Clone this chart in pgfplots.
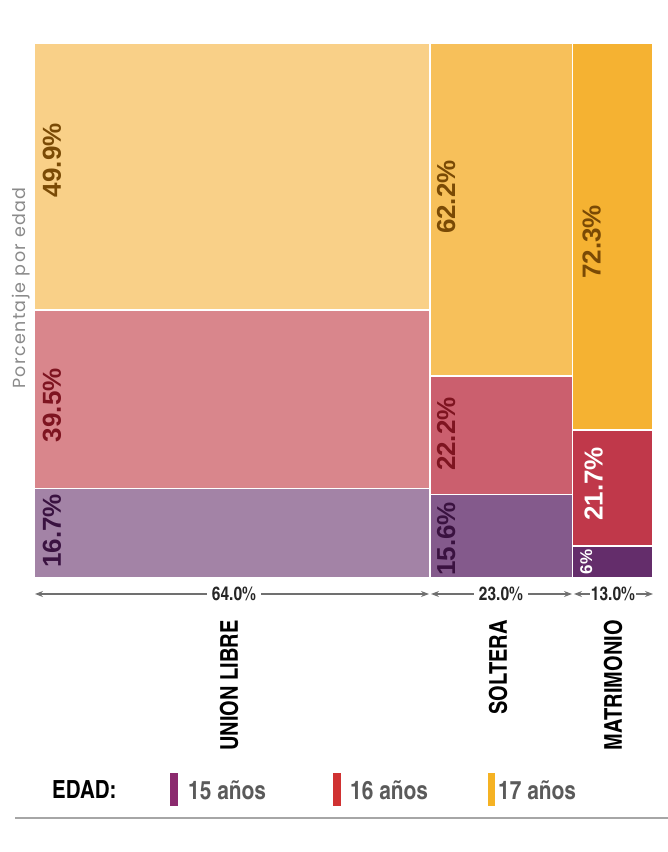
\documentclass[border=0pt]{standalone}
\usepackage{pgfplots}
\pgfplotsset{compat=1.18}
\usepackage{fontspec}
\setmainfont{Liberation Sans}
\newfontfamily\cond{texgyreheroscn}[Extension=.otf, UprightFont=*-regular, BoldFont=*-bold]
\newfontfamily\thin{Poppins}[LetterSpace=8]
\usetikzlibrary{arrows.meta}
\definecolor{ulA}{HTML}{A383A6}
\definecolor{ulB}{HTML}{D9868C}
\definecolor{ulC}{HTML}{F9D088}
\definecolor{soA}{HTML}{845A8C}
\definecolor{soB}{HTML}{CB5F6E}
\definecolor{soC}{HTML}{F7C05A}
\definecolor{maA}{HTML}{642D6B}
\definecolor{maB}{HTML}{C0384A}
\definecolor{maC}{HTML}{F5B232}
\definecolor{lgA}{HTML}{8B2A6E}
\definecolor{lgB}{HTML}{D03232}
\definecolor{lgC}{HTML}{F5B223}
\definecolor{txBrown}{HTML}{7A4A05}
\definecolor{txRed}{HTML}{7E1420}
\definecolor{txPurp}{HTML}{3A1240}
\definecolor{legGray}{HTML}{5A5A5A}
\definecolor{arrGray}{HTML}{707070}
\definecolor{titGray}{HTML}{8A8A8A}
\tikzset{lbl/.style={rotate=90, font=\fontsize{26}{26}\selectfont\bfseries, inner sep=0pt}}
\begin{document}
\begin{tikzpicture}[x=1pt,y=1pt]
\path[use as bounding box] (0,0) rectangle (668,852);
\begin{axis}[at={(34pt,274pt)}, anchor=south west, scale only axis,
  width=619pt, height=535pt, xmin=0, xmax=100, ymin=0, ymax=100,
  axis lines=none, clip=false]
% UNION LIBRE (64%)
\addplot[fill=ulA, draw=white, line width=1.5pt] coordinates {(0,0) (64,0) (64,16.7) (0,16.7)} -- cycle;
\addplot[fill=ulB, draw=white, line width=1.5pt] coordinates {(0,16.7) (64,16.7) (64,50.1) (0,50.1)} -- cycle;
\addplot[fill=ulC, draw=white, line width=1.5pt] coordinates {(0,50.1) (64,50.1) (64,100) (0,100)} -- cycle;
% SOLTERA (23%)
\addplot[fill=soA, draw=white, line width=1.5pt] coordinates {(64,0) (87,0) (87,15.6) (64,15.6)} -- cycle;
\addplot[fill=soB, draw=white, line width=1.5pt] coordinates {(64,15.6) (87,15.6) (87,37.8) (64,37.8)} -- cycle;
\addplot[fill=soC, draw=white, line width=1.5pt] coordinates {(64,37.8) (87,37.8) (87,100) (64,100)} -- cycle;
% MATRIMONIO (13%)
\addplot[fill=maA, draw=white, line width=1.5pt] coordinates {(87,0) (100,0) (100,6) (87,6)} -- cycle;
\addplot[fill=maB, draw=white, line width=1.5pt] coordinates {(87,6) (100,6) (100,27.7) (87,27.7)} -- cycle;
\addplot[fill=maC, draw=white, line width=1.5pt] coordinates {(87,27.7) (100,27.7) (100,100) (87,100)} -- cycle;
% labels
\node[lbl, text=txBrown] at (axis cs:2.9,78.1) {49.9\%};
\node[lbl, text=txRed] at (axis cs:2.9,32.3) {39.5\%};
\node[lbl, text=txPurp] at (axis cs:2.9,8.8) {16.7\%};
\node[lbl, text=txBrown] at (axis cs:66.6,71.2) {62.2\%};
\node[lbl, text=txRed] at (axis cs:66.6,26.9) {22.2\%};
\node[lbl, text=txPurp] at (axis cs:66.6,7.3) {15.6\%};
\node[lbl, text=txBrown] at (axis cs:90.1,62.8) {72.3\%};
\node[lbl, text=white] at (axis cs:90.4,17.6) {21.7\%};
\node[lbl, text=white, font=\fontsize{17}{17}\selectfont\bfseries] at (axis cs:89.2,3.0) {6\%};
\end{axis}
% y title
\node[rotate=90, text=titGray, font=\thin\fontsize{17.5}{17.5}\selectfont] at (21,564) {Porcentaje por edad};
% width arrows
\draw[arrGray, line width=1.2pt, {Stealth[length=8pt,width=6pt]}-{Stealth[length=8pt,width=6pt]}] (35,258) -- (429,258);
\draw[arrGray, line width=1.2pt, {Stealth[length=8pt,width=6pt]}-{Stealth[length=8pt,width=6pt]}] (431,258) -- (572,258);
\draw[arrGray, line width=1.2pt, {Stealth[length=8pt,width=6pt]}-{Stealth[length=8pt,width=6pt]}] (574,258) -- (653,258);
\node[fill=white, inner xsep=5pt, font=\cond\bfseries\fontsize{19}{19}\selectfont, text=black!85] at (234,258) {64.0\%};
\node[fill=white, inner xsep=5pt, font=\cond\bfseries\fontsize{19}{19}\selectfont, text=black!85] at (501,258) {23.0\%};
\node[fill=white, inner xsep=0.5pt, font=\cond\bfseries\fontsize{19}{19}\selectfont, text=black!85] at (613,258) {13.0\%};
% category labels
\node[rotate=90, anchor=east, inner sep=0pt, font=\cond\bfseries\fontsize{24.5}{24.5}\selectfont] at (229,232) {UNION LIBRE};
\node[rotate=90, anchor=east, inner sep=0pt, font=\cond\bfseries\fontsize{24.5}{24.5}\selectfont] at (498,232) {SOLTERA};
\node[rotate=90, anchor=east, inner sep=0pt, font=\cond\bfseries\fontsize{24.5}{24.5}\selectfont] at (613,232) {MATRIMONIO};
% legend
\node[anchor=west, inner sep=0pt, font=\cond\bfseries\fontsize{25}{25}\selectfont] at (52,62) {EDAD:};
\fill[lgA] (170,46) rectangle (178,79);
\fill[lgB] (333,46) rectangle (341,79);
\fill[lgC] (488,46) rectangle (495,79);
\node[anchor=west, inner sep=0pt, text=legGray, font=\cond\bfseries\fontsize{25.5}{25.5}\selectfont] at (188,62) {15 años};
\node[anchor=west, inner sep=0pt, text=legGray, font=\cond\bfseries\fontsize{25.5}{25.5}\selectfont] at (350,62) {16 años};
\node[anchor=west, inner sep=0pt, text=legGray, font=\cond\bfseries\fontsize{25.5}{25.5}\selectfont] at (498,62) {17 años};
\draw[black!35, line width=2pt] (15,34) -- (668,34);
\end{tikzpicture}
\end{document}
